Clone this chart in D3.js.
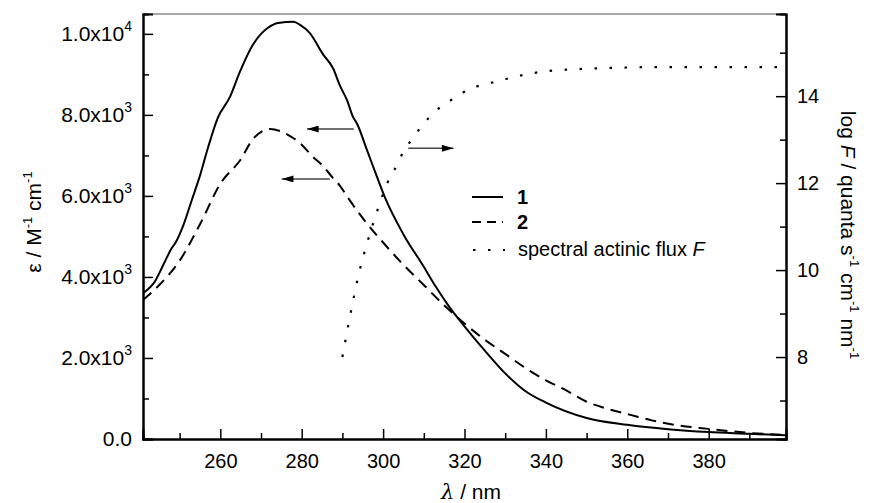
<!DOCTYPE html>
<html>
<head>
<meta charset="utf-8">
<script src="https://cdn.jsdelivr.net/npm/d3@7"></script>
<style>
  body { margin: 0; background: #fff; }
  svg text { font-family: Arial, "Liberation Sans", sans-serif; fill: #000; }
</style>
</head>
<body>
<svg id="chart" width="871" height="503"></svg>
<script>
// wavelength / epsilon for compound 1 (solid)
var wl1 = [241, 244, 246, 248, 249, 251, 253, 255, 257, 259.4, 262.4, 264.8, 268, 271.7, 274.2, 278, 279.6, 282, 285.2, 287.7, 289.4, 291.1, 292.6, 293.6, 296, 298.5, 300.5, 305, 310, 313, 316, 320, 325, 330, 335, 340, 350, 360, 370, 380, 390, 399];
var eps1 = [3600, 3900, 4300, 4700, 4850, 5300, 5900, 6500, 7200, 7930, 8450, 9060, 9730, 10150, 10270, 10300, 10220, 10020, 9500, 9150, 8720, 8370, 7950, 7780, 7140, 6470, 5950, 5050, 4250, 3750, 3300, 2780, 2180, 1620, 1180, 900, 520, 350, 240, 170, 130, 90];

// compound 2 (dashed)
var wl2 = [241, 245, 250, 255, 260, 265, 268, 272.2, 274.7, 277.9, 279.6, 282.8, 285, 287.7, 289.4, 291.4, 295, 300, 305, 310, 315, 320, 325, 330, 335, 340, 345, 350, 355, 361, 366, 371.5, 380, 390, 399];
var eps2 = [3430, 3800, 4400, 5300, 6300, 6900, 7400, 7650, 7600, 7430, 7300, 6960, 6760, 6440, 6250, 5950, 5450, 4850, 4300, 3800, 3300, 2850, 2450, 2100, 1750, 1450, 1200, 920, 750, 590, 460, 350, 250, 150, 100];

// spectral actinic flux, log F (right axis)
var wlF = [290, 292, 294, 296, 298, 300, 301.7, 303.4, 304.9, 307.1, 309.5, 312.3, 315.9, 319.4, 322.6, 326.3, 330, 333.1, 336.8, 342, 350, 360, 370, 380, 390, 398];
var logF = [8.0, 9.0, 9.9, 10.6, 11.2, 11.75, 12.14, 12.41, 12.71, 13.01, 13.31, 13.61, 13.86, 14.07, 14.21, 14.30, 14.39, 14.46, 14.53, 14.59, 14.63, 14.66, 14.67, 14.67, 14.67, 14.67];

var xTicks = [260, 280, 300, 320, 340, 360, 380];
var yLeftTicks = [0, 2000, 4000, 6000, 8000, 10000];
var yLeftLabels = [["0.0", ""], ["2.0x10", "3"], ["4.0x10", "3"], ["6.0x10", "3"], ["8.0x10", "3"], ["1.0x10", "4"]];
var yRightTicks = [8, 10, 12, 14];

// arrows: [from λ, to λ, value, axis]
var arrows = [
  [292.8, 281.3, 7650, "left"],
  [286.9, 275.1, 6420, "left"],
  [306.2, 317.3, 12.8, "right"]
];

var svg = d3.select("#chart");
var L = 143, R = 786, T = 14, B = 439;

var x = d3.scaleLinear().domain([241, 399]).range([L, R]);
var yL = d3.scaleLinear().domain([0, 10490]).range([B, T]);
var yR = d3.scaleLinear().domain([6.115, 15.89]).range([B, T]);

// frame
svg.append("line").attr("x1", L).attr("x2", R).attr("y1", T).attr("y2", T)
  .attr("stroke", "#888").attr("stroke-width", 1.5);

// axes, ticks inward
svg.append("g").attr("transform", "translate(0," + B + ")")
  .call(d3.axisBottom(x).tickValues(d3.range(250, 400, 20)).tickSize(-6).tickFormat(""));
svg.append("g").attr("transform", "translate(0," + B + ")")
  .call(d3.axisBottom(x).tickValues(xTicks).tickSize(-10).tickPadding(15).tickFormat(d3.format("d")));

svg.append("g").attr("transform", "translate(" + L + ",0)")
  .call(d3.axisLeft(yL).tickValues(d3.range(1000, 10500, 2000)).tickSize(-6).tickFormat(""));
svg.append("g").attr("transform", "translate(" + L + ",0)")
  .call(d3.axisLeft(yL).tickValues(yLeftTicks).tickSize(-10).tickFormat(""));

svg.append("g").attr("transform", "translate(" + R + ",0)")
  .call(d3.axisRight(yR).tickValues([7, 9, 11, 13, 15]).tickSize(-6).tickFormat(""));
svg.append("g").attr("transform", "translate(" + R + ",0)")
  .call(d3.axisRight(yR).tickValues(yRightTicks).tickSize(-10).tickPadding(11).tickFormat(d3.format("d")));

svg.selectAll(".domain").attr("stroke", "#000").attr("stroke-width", 2);
svg.selectAll(".tick line").attr("stroke", "#000").attr("stroke-width", 1.5);
svg.selectAll(".tick text").style("font-size", "20px").attr("fill", "#000");

// left tick labels with superscripts
yLeftTicks.forEach(function (v, i) {
  var t = svg.append("text")
    .attr("x", 132).attr("y", yL(v) + 7)
    .attr("text-anchor", "end")
    .style("font-size", "21px");
  t.append("tspan").text(yLeftLabels[i][0]);
  if (yLeftLabels[i][1]) {
    t.append("tspan").attr("dy", -10).style("font-size", "14px").text(yLeftLabels[i][1]);
  }
});

// axis titles
var xt = svg.append("text").attr("x", 471).attr("y", 499).attr("text-anchor", "middle").style("font-size", "21px");
xt.append("tspan").style("font-style", "italic").attr("font-family", "'DejaVu Serif', serif").text("λ");
xt.append("tspan").text(" / nm");

var lt = svg.append("text").attr("transform", "translate(41,222) rotate(-90)")
  .attr("text-anchor", "middle").style("font-size", "21px");
lt.append("tspan").text("ε / M");
lt.append("tspan").attr("dy", -9).style("font-size", "13px").text("-1");
lt.append("tspan").attr("dy", 9).text(" cm");
lt.append("tspan").attr("dy", -9).style("font-size", "13px").text("-1");

var rt = svg.append("text").attr("transform", "translate(841,235) rotate(90)")
  .attr("text-anchor", "middle").style("font-size", "21px");
rt.append("tspan").text("log ");
rt.append("tspan").style("font-style", "italic").text("F");
rt.append("tspan").text(" / quanta s");
rt.append("tspan").attr("dy", -9).style("font-size", "13px").text("-1");
rt.append("tspan").attr("dy", 9).text(" cm");
rt.append("tspan").attr("dy", -9).style("font-size", "13px").text("-1");
rt.append("tspan").attr("dy", 9).text(" nm");
rt.append("tspan").attr("dy", -9).style("font-size", "13px").text("-1");

// curves
svg.append("clipPath").attr("id", "clip").append("rect")
  .attr("x", L).attr("y", T).attr("width", R - L).attr("height", B - T);

var lineL = d3.line().x(function (d) { return x(d[0]); }).y(function (d) { return yL(d[1]); }).curve(d3.curveMonotoneX);
var lineR = d3.line().x(function (d) { return x(d[0]); }).y(function (d) { return yR(d[1]); }).curve(d3.curveMonotoneX);

var plot = svg.append("g").attr("clip-path", "url(#clip)");
plot.append("path").attr("d", lineL(d3.zip(wl1, eps1)))
  .attr("fill", "none").attr("stroke", "#000").attr("stroke-width", 2);
plot.append("path").attr("d", lineL(d3.zip(wl2, eps2)))
  .attr("fill", "none").attr("stroke", "#000").attr("stroke-width", 2).attr("stroke-dasharray", "11,7");
plot.append("path").attr("d", lineR(d3.zip(wlF, logF)))
  .attr("fill", "none").attr("stroke", "#000").attr("stroke-width", 2.2).attr("stroke-dasharray", "2.5,12.5");

// arrows
svg.append("defs").append("marker").attr("id", "head")
  .attr("viewBox", "0 0 10 6").attr("refX", 10).attr("refY", 3)
  .attr("markerWidth", 14).attr("markerHeight", 7).attr("markerUnits", "userSpaceOnUse")
  .attr("orient", "auto")
  .append("path").attr("d", "M0,0 L10,3 L0,6 Z").attr("fill", "#000");

arrows.forEach(function (a) {
  var ys = a[3] === "left" ? yL(a[2]) : yR(a[2]);
  svg.append("line").attr("x1", x(a[0])).attr("x2", x(a[1])).attr("y1", ys).attr("y2", ys)
    .attr("stroke", "#444").attr("stroke-width", 1.5).attr("marker-end", "url(#head)");
});

// legend
var leg = svg.append("g");
leg.append("line").attr("x1", 472).attr("x2", 503).attr("y1", 197).attr("y2", 197)
  .attr("stroke", "#000").attr("stroke-width", 2);
leg.append("text").attr("x", 517).attr("y", 204).style("font-size", "20px").style("font-weight", "bold").text("1");
leg.append("line").attr("x1", 472).attr("x2", 503).attr("y1", 222).attr("y2", 222)
  .attr("stroke", "#000").attr("stroke-width", 2).attr("stroke-dasharray", "9,6");
leg.append("text").attr("x", 517).attr("y", 229).style("font-size", "20px").style("font-weight", "bold").text("2");
leg.append("line").attr("x1", 473).attr("x2", 505).attr("y1", 250).attr("y2", 250)
  .attr("stroke", "#000").attr("stroke-width", 2.2).attr("stroke-dasharray", "2.5,12.5");
var lf = leg.append("text").attr("x", 518).attr("y", 256).style("font-size", "20px");
lf.append("tspan").text("spectral actinic flux ");
lf.append("tspan").style("font-style", "italic").text("F");
</script>
</body>
</html>
